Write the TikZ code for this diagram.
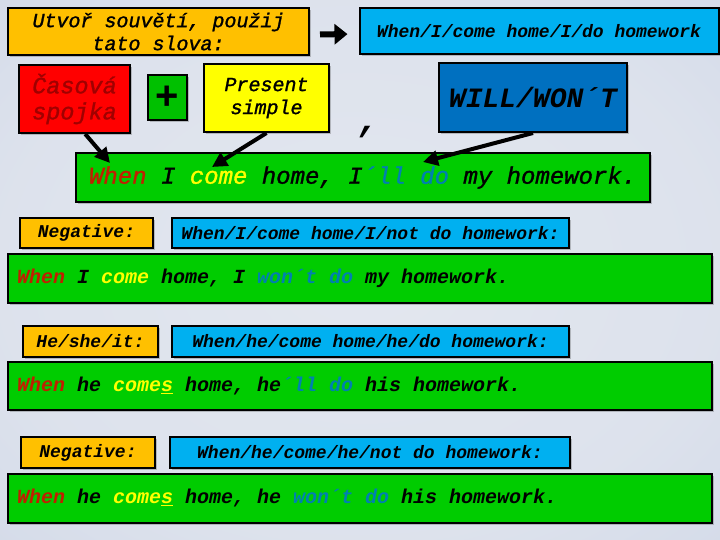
\documentclass[tikz,border=0pt]{standalone}
\usepackage{fontspec}
\usetikzlibrary{arrows.meta,shadows}
\newfontface\cour[FakeBold=1.3]{Liberation Mono Italic}
\newfontfamily\courbd{Liberation Mono}
\newfontfamily\arialf{Liberation Sans}
\newcommand\monosp{\frenchspacing\spaceskip=0pt\xspaceskip=0pt\fontdimen2\font=0.6em\fontdimen3\font=0pt\fontdimen4\font=0pt\fontdimen7\font=0pt\relax}
\definecolor{bgin}{HTML}{E3E7EF}
\definecolor{bgout}{HTML}{BAC6DE}
\definecolor{orangebox}{HTML}{FFC000}
\definecolor{lightbluebox}{HTML}{00B0F0}
\definecolor{redbox}{HTML}{FF0000}
\definecolor{redtext}{HTML}{A00000}
\definecolor{plusgreen}{HTML}{00C000}
\definecolor{yellowbox}{HTML}{FFFF00}
\definecolor{darkbluebox}{HTML}{0070C0}
\definecolor{sentgreen}{HTML}{00CC00}
\definecolor{whenred}{HTML}{C02000}
\definecolor{comeyellow}{HTML}{FFFF00}
\definecolor{willblue}{HTML}{0080B0}
\pgfdeclareradialshading{bgshade}{\pgfpoint{0bp}{0bp}}{color(0bp)=(bgin); color(25bp)=(bgin!85!bgout); color(50bp)=(bgin!40!bgout); color(71bp)=(bgout)}
\begin{document}
\begin{tikzpicture}[x=1pt,y=-1pt,
  box/.style={draw=black, line width=2pt, inner sep=0pt, align=center,
    drop shadow={shadow xshift=2pt, shadow yshift=-2pt, opacity=0.3, fill=black!70}},
  sentbox/.style={box, fill=sentgreen, align=left, inner xsep=9pt},
  labelfont/.style={font=\courbd\itshape\bfseries\fontsize{18}{22}\selectfont\monosp},
  rowfont/.style={font=\courbd\itshape\bfseries\fontsize{20}{24}\selectfont\monosp},
  fatarrow/.style={line width=6pt, -{Triangle[length=13pt,width=20pt]}},
  bigarrow/.style={line width=4pt, -{Triangle[length=15pt,width=15pt]}}
]
\useasboundingbox (0,0) rectangle (720,540);
\shade[shading=bgshade] (0,0) rectangle (720,540);

% top row
\node[box, fill=orangebox, minimum width=301pt, minimum height=47pt,
  font=\cour\fontsize{20}{23}\selectfont\monosp] (task) at (158.5,31.5)
  {Utvoř souvětí, použij\\tato slova:};
\node[box, fill=lightbluebox, minimum width=359pt, minimum height=46pt,
  labelfont] (words) at (539,31) {When/I/come home/I/do homework};
\draw[fatarrow, shorten <=10pt, shorten >=11pt] ([yshift=-3pt]task.east) -- ([yshift=-3pt]words.west);

% second row
\node[box, fill=redbox, text=redtext, minimum width=111pt, minimum height=68pt,
  font=\cour\fontsize{23.5}{26}\selectfont\monosp] (spojka) at (74.5,99) {Časová\\spojka};
\node[box, fill=plusgreen, minimum width=39pt, minimum height=45pt,
  font=\arialf\bfseries\fontsize{40}{40}\selectfont] (plus) at (167.5,97.5) {+};
\node[box, fill=yellowbox, minimum width=125pt, minimum height=68pt,
  font=\cour\fontsize{20}{23}\selectfont\monosp] (present) at (266.5,98) {Present\\simple};
\node[font=\courbd\itshape\bfseries\fontsize{36}{36}\selectfont, anchor=base, inner sep=0pt] (comma) at (369,132) {,};
\node[box, fill=darkbluebox, minimum width=188pt, minimum height=69pt,
  font=\courbd\itshape\bfseries\fontsize{28}{30}\selectfont\monosp] (will) at (533,97.5) {WILL/WON´T};

% main sentence
\node[sentbox, inner xsep=13pt, minimum width=574pt, minimum height=49pt, text width=548pt,
  font=\cour\fontsize{24}{28}\selectfont] (main) at (363,177.5)
  {\monosp{\color{whenred}When} I {\color{comeyellow}come} home, I{\color{willblue}´ll do} my homework.};

\coordinate (tipWhen) at (110,163);
\coordinate (tipCome) at (212,167);
\coordinate (tipDo) at (423,162);
\draw[bigarrow] (spojka.-73) -- (tipWhen);
\draw[bigarrow] (present.south) -- (tipCome);
\draw[bigarrow] (will.south) -- (tipDo);

% negative I
\node[box, fill=orangebox, minimum width=133pt, minimum height=30pt, labelfont] (neg1) at (86.5,233) {Negative:};
\node[box, fill=lightbluebox, minimum width=397pt, minimum height=30pt, labelfont] (cue1) at (370.5,233) {When/I/come home/I/not do homework:};
\node[sentbox, minimum width=704pt, minimum height=49pt, text width=686pt, rowfont] (s1) at (360,278.5)
  {\monosp{\color{whenred}When} I {\color{comeyellow}come} home, I {\color{willblue}won´t do} my homework.};

% he/she/it
\node[box, fill=orangebox, minimum width=135pt, minimum height=31pt, labelfont] (he) at (90.5,341.5) {He/she/it:};
\node[box, fill=lightbluebox, minimum width=397pt, minimum height=31pt, labelfont] (cue2) at (370.5,341.5) {When/he/come home/he/do homework:};
\node[sentbox, minimum width=704pt, minimum height=48pt, text width=686pt, rowfont] (s2) at (360,386)
  {\monosp{\color{whenred}When} he {\color{comeyellow}come\underline{s}} home, he{\color{willblue}´ll do} his homework.};

% negative he
\node[box, fill=orangebox, minimum width=134pt, minimum height=31pt, labelfont] (neg2) at (88,452.5) {Negative:};
\node[box, fill=lightbluebox, minimum width=400pt, minimum height=31pt, labelfont] (cue3) at (370,452.5) {When/he/come/he/not do homework:};
\node[sentbox, minimum width=704pt, minimum height=49pt, text width=686pt, rowfont] (s3) at (360,498.5)
  {\monosp{\color{whenred}When} he {\color{comeyellow}come\underline{s}} home, he {\color{willblue}won´t do} his homework.};
\end{tikzpicture}
\end{document}
